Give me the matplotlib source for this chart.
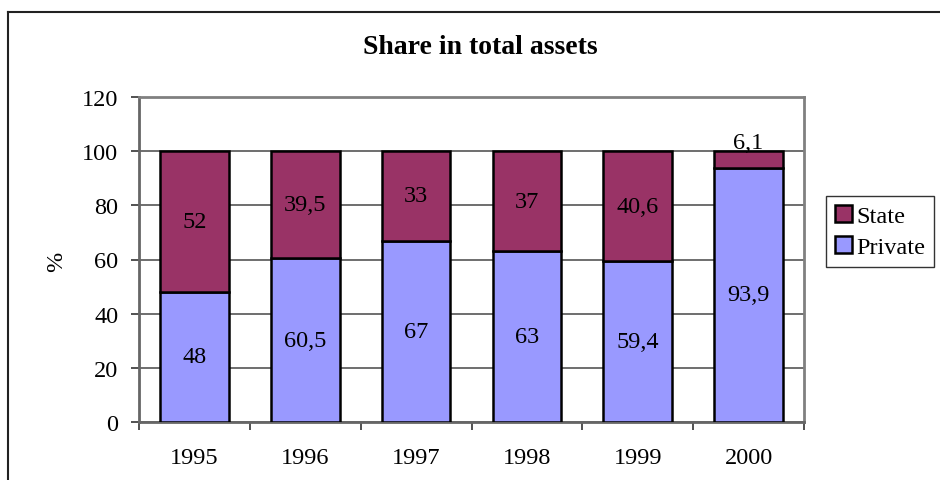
import matplotlib
matplotlib.use("Agg")
import matplotlib.pyplot as plt
from matplotlib.lines import Line2D
from matplotlib.ticker import FixedLocator

years = ["1995", "1996", "1997", "1998", "1999", "2000"]
private = [48, 60.5, 67, 63, 59.4, 93.9]
state = [52, 39.5, 33, 37, 40.6, 6.1]
yticks = [0, 20, 40, 60, 80, 100, 120]

plt.rcParams['font.family'] = ['Liberation Serif', 'DejaVu Serif']

W, H = 940, 481
FS = 17.5
fig = plt.figure(figsize=(W / 100, H / 100), dpi=100)
ax = fig.add_axes([139 / W, 1 - 423 / H, (804 - 139) / W, (423 - 98) / H])

x = list(range(len(years)))
bw = 0.62
ax.bar(x, private, width=bw, color='#9999FF', edgecolor='black', linewidth=1.8, zorder=3, label='Private')
ax.bar(x, state, width=bw, bottom=private, color='#993366', edgecolor='black', linewidth=1.8, zorder=3, label='State')

def fmt(v):
    s = ('%g' % v)
    return s.replace('.', ',')

for i in x:
    ax.text(i, private[i] / 2, fmt(private[i]), ha='center', va='center', fontsize=FS, zorder=4)
    if state[i] < 10:
        ax.annotate(fmt(state[i]), (i, private[i] + state[i]), xytext=(0, -1), textcoords='offset points',
                    ha='center', va='bottom', fontsize=FS, zorder=4)
    else:
        ax.text(i, private[i] + state[i] / 2, fmt(state[i]), ha='center', va='center', fontsize=FS, zorder=4)

ax.set_xlim(-0.5, len(years) - 0.5)
ax.set_ylim(0, 120)
ax.set_yticks(yticks)
ax.set_yticklabels([str(t) for t in yticks], fontsize=FS)
ax.set_xticks(x)
ax.set_xticklabels(years, fontsize=FS)
ax.tick_params(axis='x', which='major', length=0, pad=18)
ax.xaxis.set_minor_locator(FixedLocator([i - 0.5 for i in range(len(years) + 1)]))
ax.tick_params(axis='x', which='minor', length=6, width=1.2, color='#333333', direction='out')
ax.tick_params(axis='y', which='major', length=6, width=1.2, color='#333333', direction='out', pad=9)
ax.yaxis.grid(True, color='#555555', linewidth=1.2, zorder=0)
ax.set_axisbelow(True)
for side in ['top', 'right', 'left', 'bottom']:
    ax.spines[side].set_color('#808080')
    ax.spines[side].set_linewidth(2)
ax.spines['left'].set_color('#666666')
ax.spines['bottom'].set_color('#666666')

fig.text(57 / W, 1 - 262 / H, '%', rotation=90, ha='center', va='center', fontsize=FS)

fig.text(480 / W, 1 - 47 / H, 'Share in total assets', ha='center', va='center', fontsize=20, fontweight='bold')

handles, labels = ax.get_legend_handles_labels()
leg = fig.legend(handles[::-1], labels[::-1], loc='upper left', bbox_to_anchor=(826 / W, 1 - 197 / H),
                 fontsize=FS, frameon=True, fancybox=False, edgecolor='black', handlelength=0.7,
                 handleheight=0.7, handletextpad=0.2, borderpad=0.35, labelspacing=0.4, borderaxespad=0)
leg.get_frame().set_linewidth(1.0)

fig.add_artist(Line2D([8 / W, 1.0], [1 - 13 / H, 1 - 13 / H], color='#222222', linewidth=1.5, transform=fig.transFigure))
fig.add_artist(Line2D([8 / W, 8 / W], [1 - 13 / H, 0.0], color='#222222', linewidth=1.5, transform=fig.transFigure))

fig.savefig('out.png', dpi=100)
